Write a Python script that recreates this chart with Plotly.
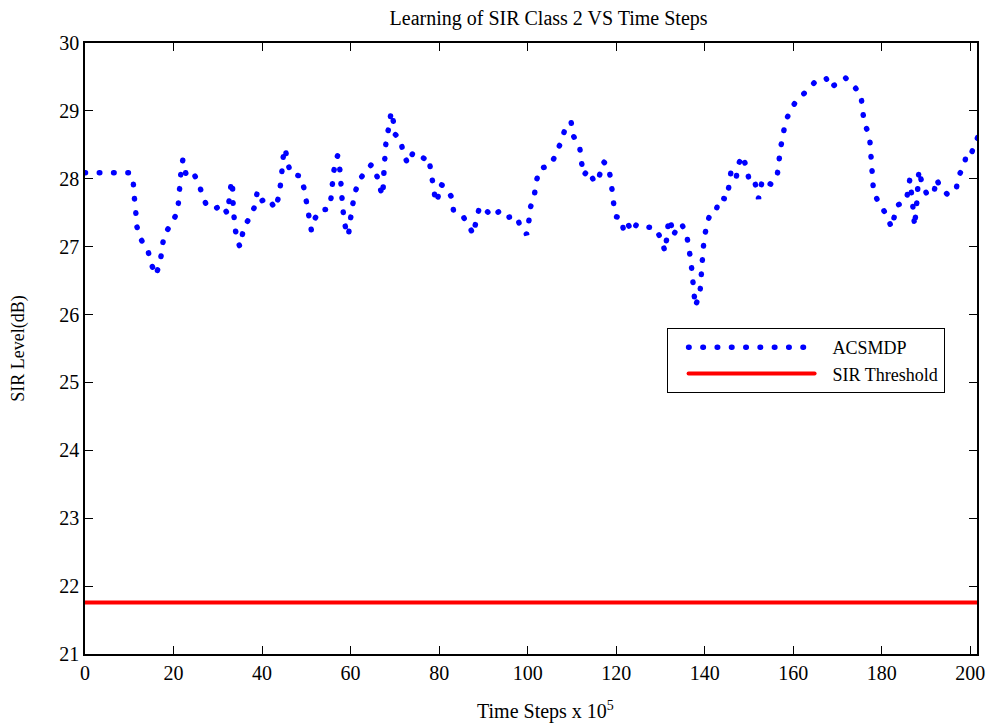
import plotly.graph_objects as go

# ---- data ----
time_steps = [
    0.00, 10.18, 10.93, 11.15, 11.47, 11.70, 12.51, 14.19, 14.93, 16.00,
    16.97, 17.42, 17.87, 19.62, 20.97, 21.20, 21.49, 21.72, 22.10, 22.78,
    24.05, 25.63, 26.54, 27.38, 29.19, 31.00, 32.13, 32.58, 32.96, 33.15,
    33.33, 33.42, 33.64, 33.94, 34.68, 34.98, 35.29, 35.81, 37.33, 38.39,
    38.91, 39.82, 41.18, 43.05, 43.82, 44.28, 44.57, 44.86, 45.25, 45.70,
    46.54, 48.71, 49.55, 50.07, 50.61, 51.13, 51.74, 53.01, 54.91, 55.50,
    55.81, 56.11, 56.72, 57.06, 57.40, 57.69, 57.92, 58.14, 58.44, 58.98,
    59.50, 59.89, 60.34, 60.93, 61.83, 63.64, 64.71, 66.00, 66.81, 67.26,
    67.42, 67.58, 67.81, 68.03, 68.71, 69.16, 69.62, 69.98, 71.27, 71.88,
    72.92, 74.14, 75.79, 76.76, 77.67, 78.12, 78.67, 79.12, 79.41, 79.71,
    80.32, 81.52, 82.81, 83.26, 85.45, 86.95, 87.71, 88.39, 89.14, 90.20,
    92.08, 93.73, 95.25, 97.51, 98.42, 99.77, 100.29, 100.68, 101.58, 102.10,
    102.78, 105.20, 106.49, 107.69, 108.60, 109.80, 110.34, 111.76, 112.15, 112.60,
    113.73, 115.16, 116.22, 117.13, 118.17, 118.78, 119.16, 119.52, 120.07, 121.11,
    121.72, 122.62, 123.69, 124.59, 126.54, 128.80, 130.32, 130.99, 131.45, 131.74,
    132.01, 132.29, 132.87, 133.55, 134.77, 135.97, 136.49, 136.95, 137.26, 137.56,
    137.85, 138.91, 139.14, 139.37, 139.59, 139.89, 140.50, 141.18, 142.47, 143.44,
    144.95, 145.48, 145.93, 147.06, 147.58, 148.48, 149.48, 150.07, 151.29, 151.88,
    152.15, 152.42, 153.01, 154.91, 156.33, 156.72, 157.08, 157.69, 158.21, 159.50,
    160.63, 161.76, 163.05, 165.09, 167.42, 168.33, 169.75, 171.72, 173.37, 175.27,
    175.63, 176.02, 177.22, 177.44, 177.67, 177.90, 178.12, 179.34, 181.06, 182.19,
    182.81, 183.55, 185.52, 186.13, 186.31, 186.49, 186.81, 187.17, 187.40, 187.71,
    188.01, 188.17, 188.39, 189.07, 190.34, 191.79, 192.31, 193.06, 194.80, 196.76,
    197.29, 198.64, 199.25, 200.38, 201.13, 201.80,
]
sir_acsmdp = [
    28.09, 28.09, 27.92, 27.72, 27.51, 27.30, 27.12, 26.95, 26.75, 26.58,
    26.77, 26.97, 27.18, 27.34, 27.53, 27.74, 27.94, 28.15, 28.28, 28.08,
    28.13, 27.95, 27.75, 27.62, 27.55, 27.62, 27.49, 27.69, 27.90, 27.97,
    27.87, 27.67, 27.46, 27.25, 27.05, 27.00, 27.07, 27.28, 27.44, 27.60,
    27.81, 27.67, 27.72, 27.56, 27.76, 27.97, 28.17, 28.38, 28.45, 28.25,
    28.07, 28.04, 27.84, 27.64, 27.44, 27.24, 27.39, 27.54, 27.55, 27.67,
    27.87, 28.08, 28.28, 28.34, 28.25, 28.05, 27.84, 27.64, 27.44, 27.23,
    27.16, 27.37, 27.57, 27.78, 27.97, 28.13, 28.21, 28.03, 27.83, 27.75,
    27.96, 28.17, 28.37, 28.58, 28.78, 28.99, 28.86, 28.66, 28.58, 28.38,
    28.22, 28.39, 28.34, 28.29, 28.31, 28.11, 27.90, 27.70, 27.65, 27.72,
    27.92, 27.87, 27.73, 27.52, 27.44, 27.28, 27.18, 27.39, 27.59, 27.56,
    27.44, 27.53, 27.43, 27.45, 27.28, 27.18, 27.39, 27.59, 27.79, 28.00,
    28.15, 28.20, 28.38, 28.57, 28.77, 28.84, 28.63, 28.46, 28.25, 28.05,
    28.13, 27.94, 28.05, 28.25, 28.19, 27.99, 27.78, 27.58, 27.44, 27.42,
    27.22, 27.33, 27.22, 27.33, 27.29, 27.28, 27.09, 26.93, 27.14, 27.34,
    27.41, 27.37, 27.16, 27.25, 27.34, 27.15, 26.95, 26.74, 26.53, 26.33,
    26.12, 26.31, 26.51, 26.72, 26.92, 27.13, 27.33, 27.48, 27.52, 27.72,
    27.70, 27.90, 28.11, 28.00, 28.21, 28.34, 28.16, 27.96, 27.97, 27.76,
    27.71, 27.78, 27.99, 27.92, 28.03, 28.23, 28.44, 28.64, 28.84, 29.03,
    29.14, 29.21, 29.30, 29.44, 29.48, 29.34, 29.40, 29.49, 29.39, 29.24,
    29.03, 28.82, 28.64, 28.43, 28.23, 28.02, 27.81, 27.64, 27.47, 27.28,
    27.44, 27.61, 27.68, 27.90, 27.99, 27.92, 27.71, 27.50, 27.30, 27.52,
    27.73, 27.94, 28.13, 27.93, 27.75, 27.80, 28.00, 27.90, 27.77, 27.83,
    28.03, 28.21, 28.41, 28.40, 28.53, 28.63,
]
threshold_x = [0, 201.5]
threshold_y = [21.76, 21.76]

x_ticks = list(range(0, 201, 20))
y_ticks = list(range(21, 31))

FONT = "Liberation Serif"

fig = go.Figure()
fig.add_trace(go.Scatter(
    x=time_steps, y=sir_acsmdp, mode="lines", name="ACSMDP",
    line=dict(color="#0000ff", width=5.5, dash="0.5px,13.8px", simplify=False),
))
fig.add_trace(go.Scatter(
    x=threshold_x, y=threshold_y, mode="lines", name="SIR Threshold",
    line=dict(color="#ff0000", width=4),
))

axis_common = dict(
    showline=True, linecolor="black", linewidth=1.5, mirror="ticks",
    ticks="inside", ticklen=8, tickwidth=1, tickcolor="black",
    showgrid=False, zeroline=False,
    tickfont=dict(family=FONT, size=20, color="black"),
)

fig.update_layout(
    width=1001, height=724,
    margin=dict(l=85, r=24, t=43, b=70),
    paper_bgcolor="white", plot_bgcolor="white",
    title=dict(text="Learning of SIR Class 2 VS Time Steps", x=0.548, xanchor="center",
               y=0.975, yanchor="middle", font=dict(family=FONT, size=20, color="black")),
    xaxis=dict(range=[0, 201.5], tickvals=x_ticks, **axis_common),
    yaxis=dict(range=[21, 30], tickvals=y_ticks, **axis_common,
               title=dict(text="SIR Level(dB)", standoff=30,
                          font=dict(family=FONT, size=18, color="black"))),
    annotations=[dict(text="Time Steps x 10<sup>5</sup>", xref="paper", yref="paper",
                      x=0.516, y=-0.0917, xanchor="center", yanchor="middle",
                      showarrow=False, font=dict(family=FONT, size=20, color="black"))],
    showlegend=True,
    legend=dict(x=0.652, y=0.5336, xanchor="left", yanchor="top",
                bordercolor="black", borderwidth=1, bgcolor="white",
                itemwidth=155, tracegroupgap=0,
                font=dict(family=FONT, size=18, color="black")),
)

post_js = """
var gd = document.getElementById('{plot_id}');
function fixStyle(){
  gd.querySelectorAll('.scatterlayer .js-line').forEach(function(p){
    p.style.strokeLinecap = 'round';
  });
  gd.querySelectorAll('.legendlines path').forEach(function(p){
    p.style.strokeLinecap = 'round';
    p.setAttribute('d', 'M21,0h126');
  });
}
fixStyle();
gd.on('plotly_afterplot', fixStyle);
"""

fig.write_html("out.html", post_script=post_js)
